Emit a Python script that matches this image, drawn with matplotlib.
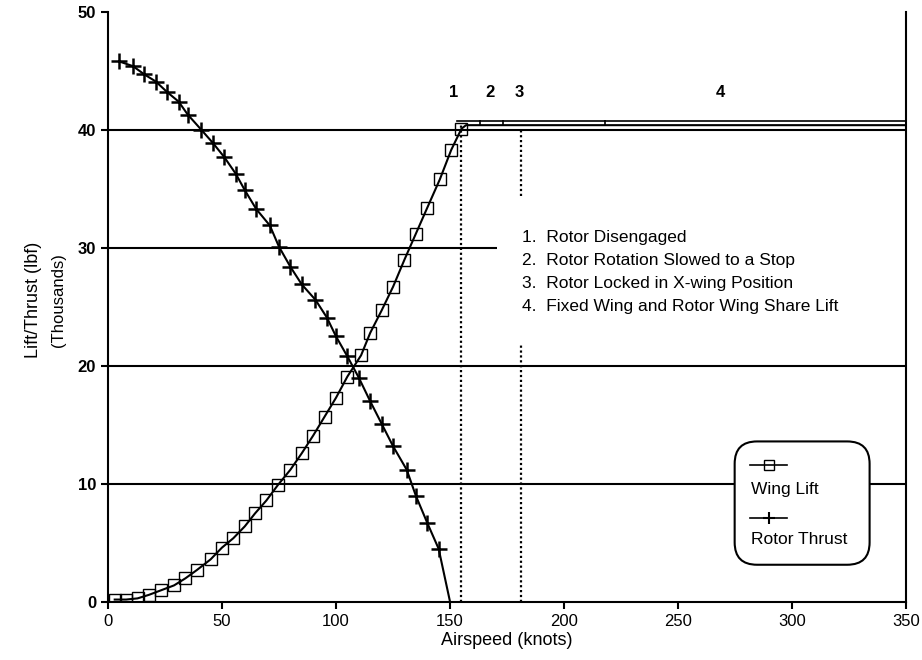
import matplotlib
matplotlib.use('Agg')
from matplotlib import pyplot as plt
from matplotlib.patches import FancyBboxPatch
from matplotlib.lines import Line2D

plt.rcParams['font.family'] = ['Liberation Sans', 'DejaVu Sans']

# wing lift (square markers), thousands of lbf
wing_x = [3, 8, 13, 18, 23.5, 29, 34, 39, 45, 50, 55, 60, 64.5, 69.5, 74.5, 80, 85, 90,
          95, 100, 105, 111, 115, 120, 125, 130, 135, 140, 145.5, 150.5, 155, 157, 350]
wing_y = [0.2, 0.2, 0.3, 0.6, 1.0, 1.4, 2.0, 2.7, 3.6, 4.6, 5.4, 6.4, 7.5, 8.6, 9.9, 11.2,
          12.6, 14.1, 15.7, 17.3, 19.1, 20.9, 22.8, 24.7, 26.7, 29.0, 31.2, 33.4, 35.8,
          38.3, 40.1, 40.4, 40.4]

# rotor thrust (plus markers)
rotor_x = [5, 11, 16, 21, 26, 31, 35, 41, 46, 51, 56, 60, 65, 71, 75, 80, 85, 91, 96,
           100, 105, 110, 115, 120, 125, 131, 135, 140, 145, 150]
rotor_y = [45.8, 45.4, 44.7, 44.1, 43.2, 42.4, 41.3, 40.0, 38.9, 37.7, 36.3, 34.9, 33.3,
           31.9, 30.1, 28.4, 26.9, 25.6, 24.1, 22.5, 20.8, 19.0, 17.0, 15.1, 13.2, 11.2,
           9.0, 6.7, 4.5, 0.0]

# upper line of the flat segment and the tick marks on it
flat_top_x = [153, 350]
flat_top_y = [40.75, 40.75]
flat_tick_x = [163, 173, 218]
flat_tick_y = [40.55, 40.55, 40.55]

phase_x = [155, 181]
phase_labels = ['1', '2', '3', '4']
phase_label_x = [151.5, 167.5, 180.5, 268.5]
notes = ['1.  Rotor Disengaged',
         '2.  Rotor Rotation Slowed to a Stop',
         '3.  Rotor Locked in X-wing Position',
         '4.  Fixed Wing and Rotor Wing Share Lift']
note_y = [30.9, 28.95, 27.0, 25.05]

fig = plt.figure(figsize=(9.22, 6.6), dpi=100)
ax = fig.add_axes([0.117, 0.088, 0.866, 0.894])

# horizontal reference lines
for yv in [10, 20, 40]:
    ax.hlines(yv, 0, 350, color='black', lw=1.5, zorder=1)
ax.hlines(30, 0, 170.5, color='black', lw=1.5, zorder=1)

# phase boundaries
ax.vlines(phase_x[0], 0, 40.4, color='black', lw=1.6, linestyles=(0, (1, 1.2)), zorder=1)
ax.vlines(phase_x[1], 0, 21.9, color='black', lw=1.6, linestyles=(0, (1, 1.2)), zorder=1)
ax.vlines(phase_x[1], 34.4, 40.2, color='black', lw=1.6, linestyles=(0, (1, 1.2)), zorder=1)

ax.plot(wing_x, wing_y, color='black', lw=1.5, marker='s', ms=8.5, mfc='none', mec='black',
        mew=1.0, markevery=list(range(len(wing_x) - 2)), zorder=3)
ax.plot(rotor_x, rotor_y, color='black', lw=1.5, marker='+', ms=12, mew=1.8,
        markevery=list(range(len(rotor_x) - 1)), zorder=3)
ax.plot(flat_top_x, flat_top_y, color='black', lw=1.2, zorder=3)
ax.plot(flat_tick_x, flat_tick_y, ls='none', marker='|', ms=5, mew=1.2, color='black', zorder=3)

for lab, xv in zip(phase_labels, phase_label_x):
    ax.text(xv, 43.2, lab, ha='center', va='center', fontsize=12, fontweight='bold')
for txt, yv in zip(notes, note_y):
    ax.text(181.5, yv, txt, ha='left', va='center', fontsize=12.5)

# legend box drawn by hand: sample line above each label
box = FancyBboxPatch((0.785, 0.063), 0.169, 0.209, transform=ax.transAxes,
                     boxstyle='round,pad=0,rounding_size=0.028', mutation_aspect=798.5 / 590,
                     facecolor='white', edgecolor='black', lw=1.5, zorder=4)
ax.add_patch(box)
ax.add_line(Line2D([0.804, 0.851], [0.232, 0.232], transform=ax.transAxes, color='black',
                   lw=1.2, zorder=5))
ax.add_line(Line2D([0.8275], [0.232], transform=ax.transAxes, ls='none', marker='s', ms=7,
                   mfc='none', mec='black', mew=1.0, zorder=5))
ax.add_line(Line2D([0.804, 0.851], [0.142, 0.142], transform=ax.transAxes, color='black',
                   lw=1.2, zorder=5))
ax.add_line(Line2D([0.8275], [0.142], transform=ax.transAxes, ls='none', marker='+', ms=9,
                   mec='black', mew=1.5, zorder=5))
ax.text(0.806, 0.19, 'Wing Lift', transform=ax.transAxes, ha='left', va='center',
        fontsize=12.5, zorder=6)
ax.text(0.806, 0.105, 'Rotor Thrust', transform=ax.transAxes, ha='left', va='center',
        fontsize=12.5, zorder=6)

ax.set_xlim(0, 350)
ax.set_ylim(0, 50)
ax.set_xticks(range(0, 351, 50))
ax.set_yticks(range(0, 51, 10))
ax.tick_params(direction='out', length=5, width=1.5, labelsize=12)
for lbl in ax.get_yticklabels():
    lbl.set_fontweight('bold')
ax.spines['top'].set_visible(False)
for sp in ['left', 'bottom', 'right']:
    ax.spines[sp].set_linewidth(1.5)

ax.set_xlabel('Airspeed (knots)', fontsize=13, labelpad=2)
fig.text(0.036, 0.545, 'Lift/Thrust (lbf)', rotation=90, ha='center', va='center', fontsize=13)
fig.text(0.063, 0.545, '(Thousands)', rotation=90, ha='center', va='center', fontsize=12)

fig.savefig('out.png', dpi=100)
